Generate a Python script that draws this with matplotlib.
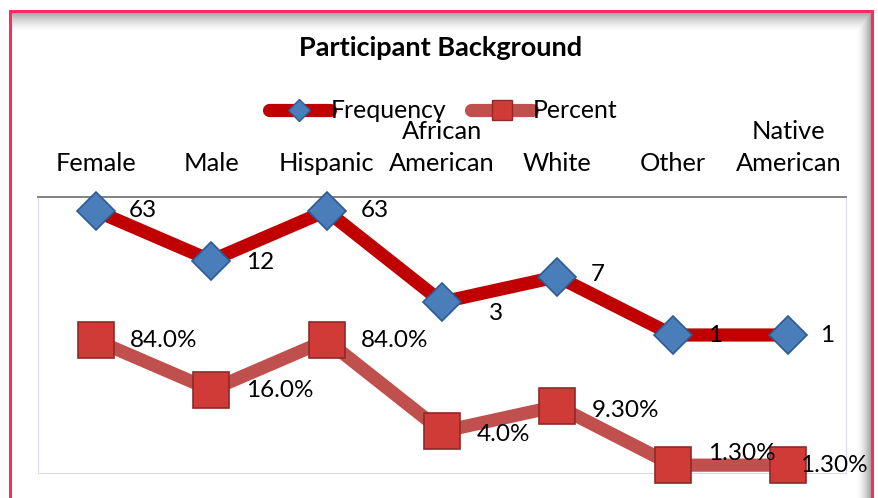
import numpy as np
import matplotlib.pyplot as plt
from matplotlib.lines import Line2D

plt.rcParams['font.family'] = ['Lato', 'DejaVu Sans']

# Chart data.
categories = ['Female', 'Male', 'Hispanic', 'African\nAmerican', 'White', 'Other', 'Native\nAmerican']
frequency = [63, 12, 63, 3, 7, 1, 1]
percent = [0.84, 0.16, 0.84, 0.04, 0.093, 0.013, 0.013]
frequency_labels = ['63', '12', '63', '3', '7', '1', '1']
percent_labels = ['84.0%', '16.0%', '84.0%', '4.0%', '9.30%', '1.30%', '1.30%']

# Label offsets from each point, in pixels (right, up).
freq_offsets = [(33, 0), (35, -2), (34, 0), (47, -11), (33, 2), (35, 0), (32, 0)]
pct_offsets = [(34, 0), (35, -1), (34, 0), (35, -3), (34, -4), (35, 12), (12, 0)]

W, H = 879, 498
FS = 17.5
TICK_FS = 18.3
PX = 0.72  # points per pixel at dpi 100

FREQ_LINE = '#C00000'
PCT_LINE = '#C0504D'
DIAMOND = '#4A7EBB'
DIAMOND_EDGE = '#2E5B90'
SQUARE = '#D03B38'
SQUARE_EDGE = '#8E2A28'


def draw_frame(fig):
    # Background layer in pixel coordinates: inset shadow and pink border.
    bg = fig.add_axes([0, 0, 1, 1], zorder=-1)
    bg.set_xlim(0, W)
    bg.set_ylim(H, 0)
    bg.axis('off')

    yy, xx = np.mgrid[0:H, 0:W]
    top = np.clip(1 - (yy - 12) / 20.0, 0, 1) ** 1.6 * 0.55
    top[(yy < 12) | (xx < 12) | (xx > 871)] = 0
    right = np.clip((xx - 856) / 15.0, 0, 1) ** 1.6 * 0.6
    right[(yy < 12) | (xx > 871)] = 0
    rgba = np.zeros((H, W, 4))
    rgba[..., :3] = 0.35
    rgba[..., 3] = np.maximum(top, right)
    bg.imshow(rgba, extent=(0, W, H, 0), interpolation='bilinear', aspect='auto')

    border = dict(color='#FF2A62', lw=3 * PX, solid_capstyle='projecting')
    bg.plot([10.5, 10.5], [H + 5, 10.5], **border)
    bg.plot([10.5, 872.5], [10.5, 10.5], **border)
    bg.plot([872.5, 872.5], [10.5, H + 5], **border)


def main():
    fig = plt.figure(figsize=(W / 100, H / 100), dpi=100)
    draw_frame(fig)

    ax = fig.add_axes([38 / W, 1 - 473 / H, (846 - 38) / W, (473 - 197) / H])
    ax.set_facecolor('white')
    x = np.arange(len(categories))

    ax.plot(x, frequency, color=FREQ_LINE, lw=9.5, marker='D', markersize=19.5,
            mfc=DIAMOND, mec=DIAMOND_EDGE, mew=1.2, zorder=3, clip_on=False)
    ax.plot(x, percent, color=PCT_LINE, lw=9.5, marker='s', markersize=26,
            mfc=SQUARE, mec=SQUARE_EDGE, mew=1.2, zorder=3, clip_on=False)

    # Data labels to the right of each point.
    for xi, v, t, (dx, dy) in zip(x, frequency, frequency_labels, freq_offsets):
        ax.annotate(t, (xi, v), xytext=(dx * PX, dy * PX), textcoords='offset points',
                    ha='left', va='center', fontsize=FS, zorder=4)
    for xi, v, t, (dx, dy) in zip(x, percent, percent_labels, pct_offsets):
        ax.annotate(t, (xi, v), xytext=(dx * PX, dy * PX), textcoords='offset points',
                    ha='left', va='center', fontsize=FS, zorder=4, annotation_clip=False)

    ax.set_yscale('log')
    ax.set_ylim(0.01, 100)
    ax.set_xlim(-0.5, 6.5)
    ax.tick_params(axis='y', which='both', left=False, labelleft=False)
    ax.xaxis.tick_top()
    ax.set_xticks(x)
    ax.set_xticklabels(categories, fontsize=TICK_FS, linespacing=1.5)
    ax.tick_params(axis='x', which='both', length=0, pad=15.5)

    for side in ['left', 'right', 'bottom']:
        ax.spines[side].set_color('#D8D8F2')
        ax.spines[side].set_linewidth(1 * PX)
    ax.spines['top'].set_color('#868686')
    ax.spines['top'].set_linewidth(2 * PX)

    fig.text(440.5 / W, 1 - 48 / H, 'Participant Background', ha='center', va='center',
             fontsize=19.5, fontweight='bold')

    handles = [
        Line2D([], [], color=FREQ_LINE, lw=9.5, marker='D', markersize=11,
               mfc=DIAMOND, mec=DIAMOND_EDGE, mew=1, solid_capstyle='round'),
        Line2D([], [], color=PCT_LINE, lw=9.5, marker='s', markersize=14.5,
               mfc=SQUARE, mec=SQUARE_EDGE, mew=1, solid_capstyle='round'),
    ]
    fig.legend(handles, ['Frequency', 'Percent'], loc='center', ncol=2,
               bbox_to_anchor=(443.5 / W, 1 - 111 / H), frameon=False, fontsize=17.8,
               handlelength=2.45, handletextpad=0.05, columnspacing=1.0,
               borderpad=0, borderaxespad=0)

    fig.savefig('out.png', dpi=100)


if __name__ == '__main__':
    main()
